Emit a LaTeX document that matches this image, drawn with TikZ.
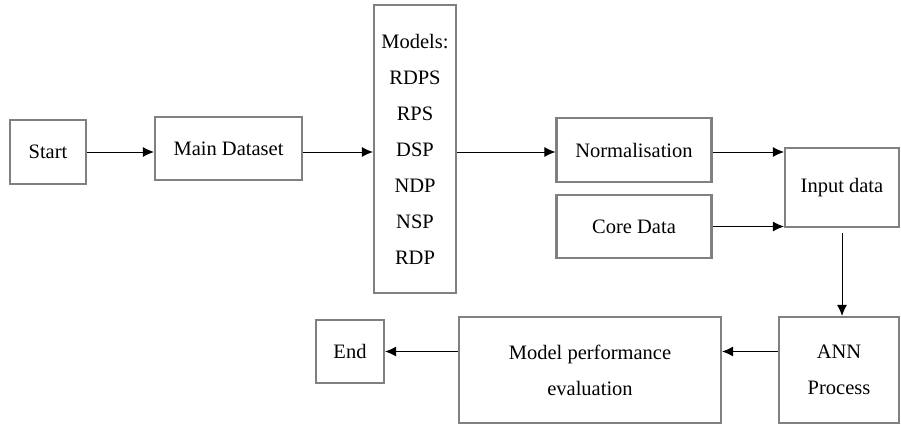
\documentclass[tikz,border=0pt]{standalone}
\usepackage{fontspec}
\setmainfont{Liberation Serif}
\usetikzlibrary{arrows.meta}
\definecolor{boxgray}{HTML}{808080}
\begin{document}
\begin{tikzpicture}[x=1pt,y=-1pt,
  box/.style={draw=boxgray,line width=2.2pt,rectangle,inner sep=0pt,align=center,
    font=\fontsize{20.5}{36}\selectfont},
  arr/.style={-{Latex[length=11pt,width=10pt]},line width=0.9pt,black}]
\useasboundingbox (0,0) rectangle (901,425);
\node[box,minimum width=76pt,minimum height=64pt] (start) at (48,152) {Start};
\node[box,minimum width=147pt,minimum height=63pt] (main) at (228.5,148.5) {Main Dataset};
\node[box,minimum width=82pt,minimum height=288pt] (models) at (415,149) {Models:\\RDPS\\RPS\\DSP\\NDP\\NSP\\RDP};
\node[box,minimum width=155pt,minimum height=64pt] (norm) at (634,150) {Normalisation};
\node[box,minimum width=155pt,minimum height=63pt] (core) at (634,226.5) {Core Data};
\node[box,minimum width=114pt,minimum height=79pt] (input) at (842,187.5) {Input data};
\node[box,minimum width=120pt,minimum height=106pt] (ann) at (839,370) {ANN\\Process};
\node[box,minimum width=262pt,minimum height=106pt] (perf) at (590,370) {Model performance\\evaluation};
\node[box,minimum width=68pt,minimum height=63pt] (endn) at (350,351.5) {End};
\draw[arr] (start.east) -- (main.west |- start.east);
\draw[arr] (main.east |- start.east) -- (models.west |- start.east);
\draw[arr] (models.east |- start.east) -- (norm.west |- start.east);
\draw[arr] (norm.east |- start.east) -- (input.west |- start.east);
\draw[arr] (core.east) -- (input.west |- core.east);
\draw[arr,shorten <=5pt] (input.south) -- (ann.north -| input.south);
\draw[arr] (ann.west |- endn.east) -- (perf.east |- endn.east);
\draw[arr] (perf.west |- endn.east) -- (endn.east);
\end{tikzpicture}
\end{document}
